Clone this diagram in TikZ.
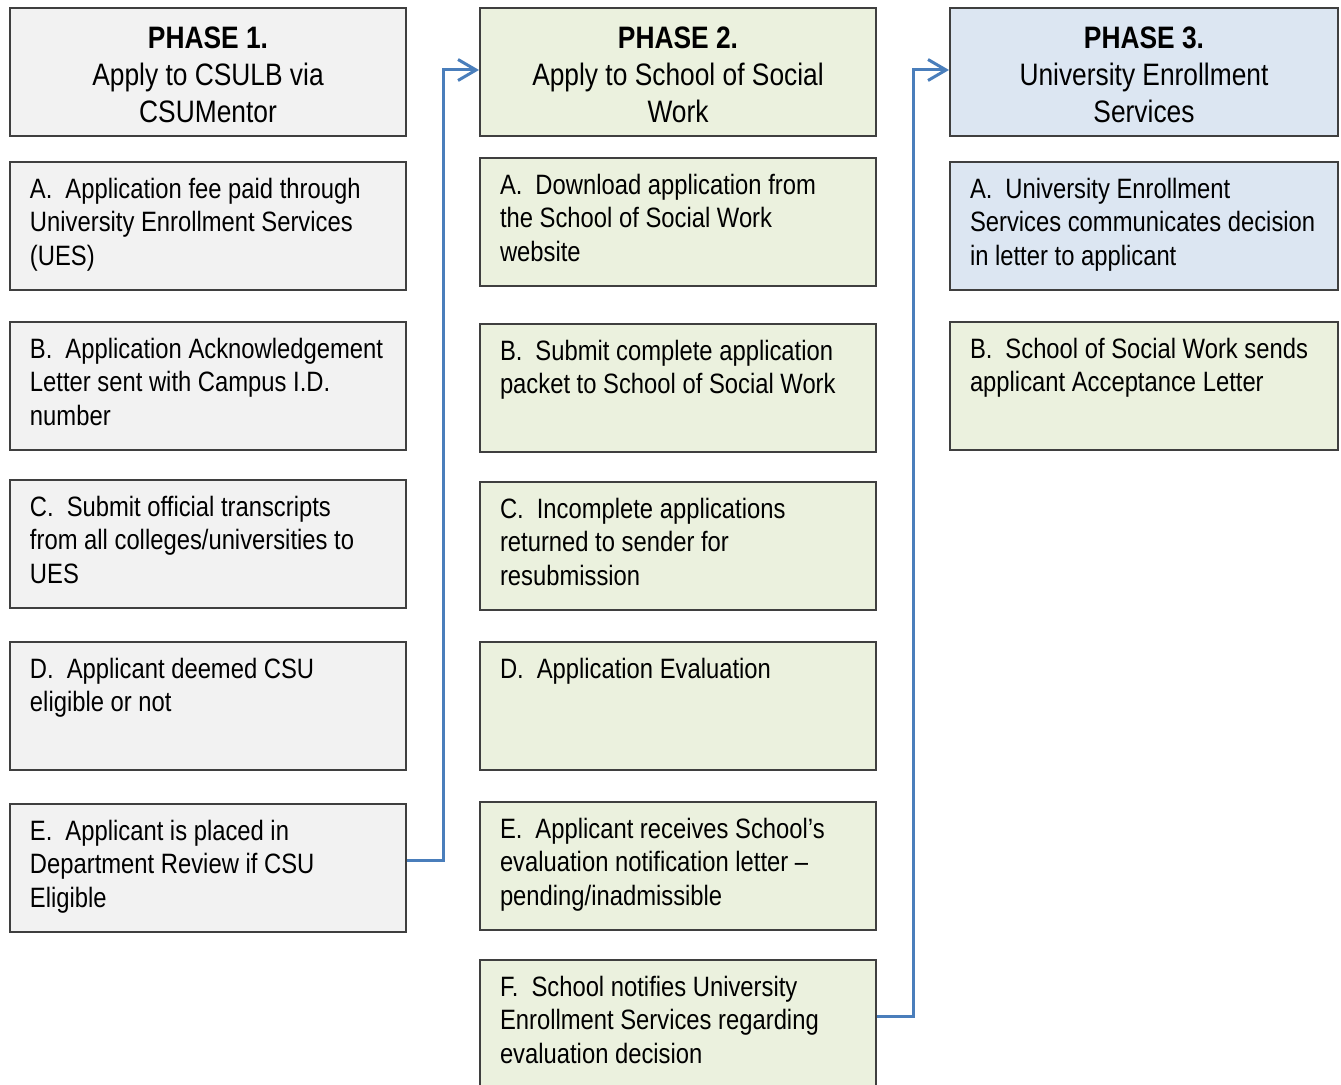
\documentclass[tikz,border=0pt]{standalone}
\usepackage{fontspec}
\setmainfont{Liberation Sans}[FakeStretch=0.85]
\usetikzlibrary{arrows.meta}
\definecolor{boxline}{HTML}{3F3F3F}
\definecolor{grayfill}{HTML}{F2F2F2}
\definecolor{greenfill}{HTML}{EBF1DE}
\definecolor{bluefill}{HTML}{DCE6F2}
\definecolor{flowblue}{HTML}{4A7EBB}
\newcommand{\bodyfont}{\fontsize{14pt}{16.75pt}\selectfont}
\newcommand{\headfont}{\fontsize{15.5pt}{18.5pt}\selectfont}
\newcommand{\itm}[1]{#1.\hspace{6.5pt}}
\newcommand{\boxtext}[2]{\parbox[c][48pt][t]{#1}{\raggedright #2}}
\newcommand{\phase}[1]{\rule{0pt}{13.3pt}\textbf{PHASE #1.}}

\begin{document}
\begin{tikzpicture}[x=0.5pt, y=-0.5pt,
    headbox/.style={draw=boxline, line width=1pt, anchor=north west, minimum width=198pt, minimum height=64pt, align=center, font=\headfont},
    stepbox/.style={draw=boxline, line width=1pt, anchor=north west, inner xsep=10pt, inner ysep=8pt, font=\bodyfont},
    flow/.style={draw=flowblue, line width=1.5pt, -{Straight Barb[length=9pt, width=10.5pt]}}]
    \useasboundingbox (0, 0) rectangle (1341, 1085);
    \node [headbox, fill=grayfill] (h1) at (9, 7) {\phase{1}\\Apply to CSULB via\\CSUMentor};
    \node [headbox, fill=greenfill] (h2) at (479, 7) {\phase{2}\\Apply to School of Social\\Work};
    \node [headbox, fill=bluefill, minimum width=194pt] (h3) at (949, 7) {\phase{3}\\University Enrollment\\Services};
    \node [stepbox, fill=grayfill] (a1) at (9, 161) {\boxtext{178pt}{\itm{A}Application fee paid through\\University Enrollment Services\\(UES)}};
    \node [stepbox, fill=grayfill] (b1) at (9, 321) {\boxtext{178pt}{\itm{B}Application Acknowledgement\\Letter sent with Campus I.D.\\number}};
    \node [stepbox, fill=grayfill] (c1) at (9, 479) {\boxtext{178pt}{\itm{C}Submit official transcripts\\from all colleges/universities to\\UES}};
    \node [stepbox, fill=grayfill] (d1) at (9, 641) {\boxtext{178pt}{\itm{D}Applicant deemed CSU\\eligible or not}};
    \node [stepbox, fill=grayfill] (e1) at (9, 803) {\boxtext{178pt}{\itm{E}Applicant is placed in\\Department Review if CSU\\Eligible}};
    \node [stepbox, fill=greenfill] (a2) at (479, 157) {\boxtext{178pt}{\itm{A}Download application from\\the School of Social Work\\website}};
    \node [stepbox, fill=greenfill] (b2) at (479, 323) {\boxtext{178pt}{\itm{B}Submit complete application\\packet to School of Social Work}};
    \node [stepbox, fill=greenfill] (c2) at (479, 481) {\boxtext{178pt}{\itm{C}Incomplete applications\\returned to sender for\\resubmission}};
    \node [stepbox, fill=greenfill] (d2) at (479, 641) {\boxtext{178pt}{\itm{D}Application Evaluation}};
    \node [stepbox, fill=greenfill] (e2) at (479, 801) {\boxtext{178pt}{\itm{E}Applicant receives School’s\\evaluation notification letter –\\pending/inadmissible}};
    \node [stepbox, fill=greenfill] (f2) at (479, 959) {\boxtext{178pt}{\itm{F}School notifies University\\Enrollment Services regarding\\evaluation decision}};
    \node [stepbox, fill=bluefill] (a3) at (949, 161) {\boxtext{174pt}{\itm{A}University Enrollment\\Services communicates decision\\in letter to applicant}};
    \node [stepbox, fill=greenfill] (b3) at (949, 321) {\boxtext{174pt}{\itm{B}School of Social Work sends\\applicant Acceptance Letter}};
    \draw [flow] ([yshift=3.5pt]e1.east) -- ++(36, 0) |- ([yshift=1pt]h2.west);
    \draw [flow] ([yshift=3.5pt]f2.east) -- ++(36, 0) |- ([yshift=1pt]h3.west);
\end{tikzpicture}
\end{document}
